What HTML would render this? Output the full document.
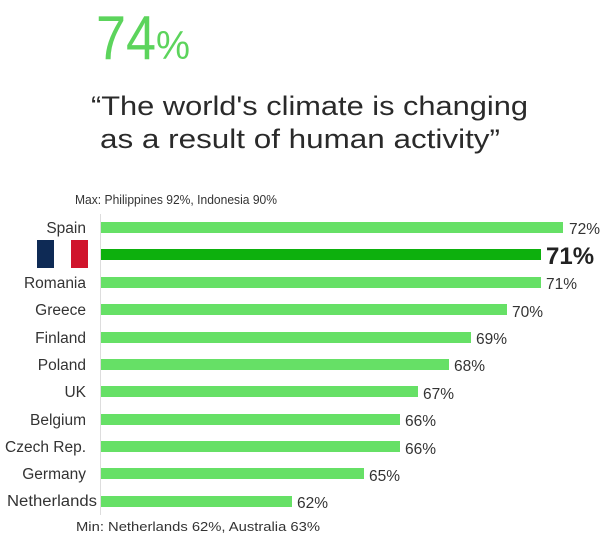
<!DOCTYPE html>
<html><head><meta charset="utf-8"><style>
html,body{margin:0;padding:0;background:#fff;}
svg{display:block;font-family:"Liberation Sans",Arial,sans-serif;}
</style></head><body>
<svg width="615" height="542" viewBox="0 0 615 542">
<text x="96" y="59" font-size="62" fill="#5cd45c" textLength="60" lengthAdjust="spacingAndGlyphs">74</text>
<text x="156" y="59" font-size="40" fill="#5cd45c" textLength="34" lengthAdjust="spacingAndGlyphs">%</text>
<text x="91" y="115" font-size="27" fill="#2a2a2a" textLength="437" lengthAdjust="spacingAndGlyphs">“The world's climate is changing</text>
<text x="100" y="148" font-size="27" fill="#2a2a2a" textLength="400" lengthAdjust="spacingAndGlyphs">as a result of human activity”</text>
<text x="75" y="204" font-size="13" fill="#333" textLength="202" lengthAdjust="spacingAndGlyphs">Max: Philippines 92%, Indonesia 90%</text>
<text x="76" y="531" font-size="13" fill="#333" textLength="244" lengthAdjust="spacingAndGlyphs">Min: Netherlands 62%, Australia 63%</text>
<line x1="100.5" y1="214" x2="100.5" y2="515" stroke="#ddd" stroke-width="1"/>
<rect x="37" y="240" width="17" height="28" fill="#0e2a55"/>
<rect x="71" y="240" width="17" height="28" fill="#d0142c"/>
<g font-size="15.5" fill="#333">
<rect x="101" y="222" width="462" height="11" fill="#66e066"/>
<text x="86" y="233" text-anchor="end">Spain</text><text x="569" y="234">72%</text>
<rect x="101" y="249" width="440" height="11" fill="#0db00d"/>
<text x="546" y="264" font-size="24" font-weight="bold" fill="#222">71%</text>
<rect x="101" y="277" width="440" height="11" fill="#66e066"/>
<text x="86" y="288" text-anchor="end">Romania</text><text x="546" y="289">71%</text>
<rect x="101" y="304" width="406" height="11" fill="#66e066"/>
<text x="86" y="315" text-anchor="end">Greece</text><text x="512" y="317">70%</text>
<rect x="101" y="332" width="370" height="11" fill="#66e066"/>
<text x="86" y="343" text-anchor="end">Finland</text><text x="476" y="344">69%</text>
<rect x="101" y="359" width="348" height="11" fill="#66e066"/>
<text x="86" y="370" text-anchor="end">Poland</text><text x="454" y="371">68%</text>
<rect x="101" y="386" width="317" height="11" fill="#66e066"/>
<text x="86" y="397" text-anchor="end">UK</text><text x="423" y="399">67%</text>
<rect x="101" y="414" width="299" height="11" fill="#66e066"/>
<text x="86" y="425" text-anchor="end">Belgium</text><text x="405" y="426">66%</text>
<rect x="101" y="441" width="299" height="11" fill="#66e066"/>
<text x="86" y="452" text-anchor="end">Czech Rep.</text><text x="405" y="454">66%</text>
<rect x="101" y="468" width="263" height="11" fill="#66e066"/>
<text x="86" y="479" text-anchor="end">Germany</text><text x="369" y="481">65%</text>
<rect x="101" y="496" width="191" height="11" fill="#66e066"/>
<text x="97" y="506" text-anchor="end" textLength="90" lengthAdjust="spacingAndGlyphs">Netherlands</text><text x="297" y="508">62%</text>
</g>
</svg>
</body></html>
